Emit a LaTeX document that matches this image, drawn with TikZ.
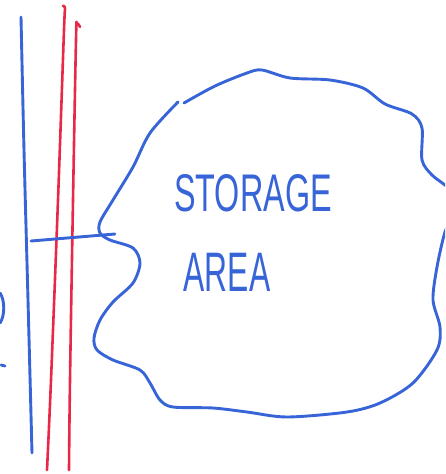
\documentclass[tikz,border=0pt]{standalone}
\usepackage{fontspec}
\setmainfont{Liberation Sans}
\usepackage{graphicx}
\definecolor{penblue}{RGB}{55,100,215}
\definecolor{penred}{RGB}{232,40,72}

\begin{document}
\begin{tikzpicture}[x=1pt, y=-1pt, line cap=round, line join=round,
  bluepen/.style={draw=penblue, line width=2.9pt},
  redpen/.style={draw=penred, line width=2.6pt},
  penlabel/.style={text=penblue, font=\fontsize{53}{60}\selectfont, inner sep=0pt}]

\useasboundingbox (0,0) rectangle (445,474);
\clip (0,0) rectangle (445,474);

% Vertical lines
\draw[bluepen] plot[smooth, tension=0.6] coordinates {(21,17) (24,150) (28,300) (32,453)};
\draw[redpen] plot[smooth, tension=0.6] coordinates {(63,6) (65,9) (64,30) (58,200) (51,380) (47,470)};
\draw[redpen] plot[smooth, tension=0.6] coordinates {(80,27) (77,24) (76,40) (73,200) (70,380) (69,470)};

% Storage area outline
\draw[bluepen] plot[smooth, tension=0.5] coordinates {
  (184,103) (215,86) (247,73) (262,70) (290,78) (330,80) (363,88) (385,104)
  (412,114) (422,128) (422,160) (432,175) (450,190) (455,210)
  (445,232) (437,267) (433,300) (440,327) (437,350) (413,383) (380,403)
  (347,412) (287,417) (247,412) (213,408) (173,407) (160,400) (150,383)
  (140,370) (113,360) (97,350) (94,338) (100,320) (113,302) (133,283)
  (140,263) (133,248) (110,240) (100,233) (100,222) (113,200) (133,167)
  (150,133) (178,102)};

% Link into the area
\coordinate (linkstart) at (31,241);
\coordinate (linkend) at (115,234);
\draw[bluepen] (linkstart) -- (linkend);

% Labels
\node[penlabel] (storage) at (253,193) {\scalebox{0.61}[1]{STORAGE}};
\node[penlabel] (area) at (227,272) {\scalebox{0.6}[1.05]{AREA}};

% Cut-off marks at the left edge
\draw[bluepen] (0,293) .. controls (5,300) and (5,316) .. (0,323);
\draw[bluepen] (1,365) -- (5,366);

\end{tikzpicture}
\end{document}
